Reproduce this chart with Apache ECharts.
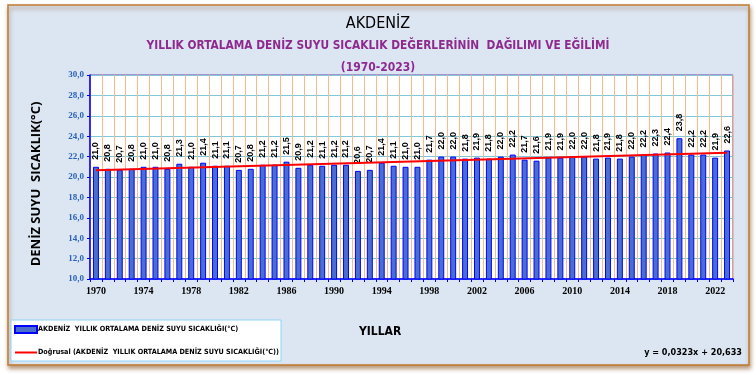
<!DOCTYPE html>
<html><head><meta charset="utf-8">
<script src="https://cdn.jsdelivr.net/npm/echarts@6/dist/echarts.min.js"></script>
<style>html,body{margin:0;padding:0;background:#fff}#c{width:756px;height:375px}</style>
</head><body><div id="c"></div>
<script>
const years = ['1970','1971','1972','1973','1974','1975','1976','1977','1978','1979','1980','1981','1982','1983','1984','1985','1986','1987','1988','1989','1990','1991','1992','1993','1994','1995','1996','1997','1998','1999','2000','2001','2002','2003','2004','2005','2006','2007','2008','2009','2010','2011','2012','2013','2014','2015','2016','2017','2018','2019','2020','2021','2022','2023'];
const temps = [21.0,20.8,20.7,20.8,21.0,21.0,20.8,21.3,21.0,21.4,21.1,21.1,20.7,20.8,21.2,21.2,21.5,20.9,21.2,21.1,21.2,21.2,20.6,20.7,21.4,21.1,21.0,21.0,21.7,22.0,22.0,21.8,21.9,21.8,22.0,22.2,21.7,21.6,21.9,21.9,22.0,22.0,21.8,21.9,21.8,22.0,22.2,22.3,22.4,23.8,22.2,22.2,21.9,22.6];
const trendYears = ['1970','2023'];
const trendValues = [20.67, 22.38];
const yTicks = {min: 10, max: 30, interval: 2};
const barName = 'AKDENİZ  YILLIK ORTALAMA DENİZ SUYU SICAKLIĞI(°C)';
const lineName = 'Doğrusal (AKDENİZ  YILLIK ORTALAMA DENİZ SUYU SICAKLIĞI(°C))';
const narrow = '"Liberation Sans Narrow", "DejaVu Sans Condensed", "Open Sans", sans-serif';
const fmt = v => v.toFixed(1).replace('.', ',');

const chart = echarts.init(document.getElementById('c'), null, {renderer: 'canvas'});
chart.setOption({
  animation: false,
  backgroundColor: '#ffffff',
  graphic: [
    {type: 'rect', z: -10, shape: {x: 8, y: 5, width: 741, height: 360},
     style: {fill: '#DCE6F2', stroke: '#C07A30', lineWidth: 1.5, shadowBlur: 4, shadowOffsetY: 3, shadowOffsetX: 1, shadowColor: 'rgba(120,60,0,0.5)'}},
    {type: 'text', x: 36, y: 184, rotation: Math.PI / 2, z: 5,
     style: {text: 'DENİZ SUYU  SICAKLIK(°C)', fontFamily: '"Open Sans", sans-serif', fontSize: 13, fontWeight: 'bold', fill: '#000', align: 'center', verticalAlign: 'middle'}}
  ],
  title: [
    {text: 'AKDENİZ', left: 'center', top: 16, padding: 0,
     textStyle: {fontFamily: narrow, fontSize: 16, fontWeight: 'normal', color: '#000'}},
    {text: 'YILLIK ORTALAMA DENİZ SUYU SICAKLIK DEĞERLERİNİN  DAĞILIMI VE EĞİLİMİ', left: 'center', top: 40, padding: 0,
     textStyle: {fontFamily: narrow, fontSize: 11.8, fontWeight: 'bold', color: '#8E2A8E'}},
    {text: '(1970-2023)', left: 'center', top: 62, padding: 0,
     textStyle: {fontFamily: narrow, fontSize: 12, fontWeight: 'bold', color: '#8E2A8E'}},
    {text: 'YILLAR', left: 359, top: 326, padding: 0,
     textStyle: {fontFamily: narrow, fontSize: 12, fontWeight: 'bold', color: '#000'}},
    {text: 'y = 0,0323x + 20,633', right: 14, top: 348, padding: 0,
     textStyle: {fontFamily: narrow, fontSize: 9, fontWeight: 'bold', color: '#000'}}
  ],
  legend: {
    orient: 'vertical', left: 11, top: 320,
    backgroundColor: '#ffffff', borderColor: '#8FD3F5', borderWidth: 1,
    padding: [5, 2, 5, 3], itemGap: 15, itemWidth: 22, itemHeight: 7,
    textStyle: {fontFamily: narrow, fontSize: 7.2, fontWeight: 'bold', color: '#000', padding: [0, 0, 0, -4]},
    data: [{name: barName, icon: 'rect'}, {name: lineName, itemStyle: {opacity: 0}}]
  },
  grid: {left: 90, right: 23, top: 75, bottom: 96, show: true, borderColor: '#7040B0', borderWidth: 1, backgroundColor: '#ffffff'},
  xAxis: {
    type: 'category', data: years, boundaryGap: true,
    axisLine: {lineStyle: {color: '#0000FF', width: 1.5}},
    axisTick: {show: true, interval: 0, length: 3, lineStyle: {color: '#0000FF'}},
    axisLabel: {interval: 3, color: '#000', fontFamily: '"Liberation Serif", serif', fontWeight: 'bold', fontSize: 10, margin: 7},
    splitLine: {show: true, interval: 0, lineStyle: {color: '#F9B98A', width: 1}}
  },
  yAxis: {
    type: 'value', min: yTicks.min, max: yTicks.max, interval: yTicks.interval,
    axisLine: {show: true, lineStyle: {color: '#0000FF', width: 1.5}},
    axisTick: {show: true, length: 3, lineStyle: {color: '#0000FF'}},
    axisLabel: {color: '#2A62B8', fontFamily: '"Liberation Serif", serif', fontWeight: 'bold', fontSize: 9, margin: 6, formatter: fmt},
    splitLine: {show: true, lineStyle: {color: '#7EC8DA', width: 1}}
  },
  series: [
    {name: barName, type: 'bar', data: temps, barWidth: '50%',
     itemStyle: {color: '#4A6FCC', borderColor: '#0000FF', borderWidth: 1},
     label: {show: true, position: 'top', rotate: 90, align: 'left', verticalAlign: 'middle', distance: 7,
       fontFamily: '"Liberation Sans", Arial, sans-serif', fontSize: 9, fontWeight: 'bold', color: '#000',
       formatter: p => fmt(p.value)}},
    {name: lineName, type: 'line', data: trendYears.map((y, i) => [y, trendValues[i]]),
     symbol: 'none', lineStyle: {color: '#FF0000', width: 2}, itemStyle: {color: '#FF0000'}, z: 5}
  ]
});
</script></body></html>
